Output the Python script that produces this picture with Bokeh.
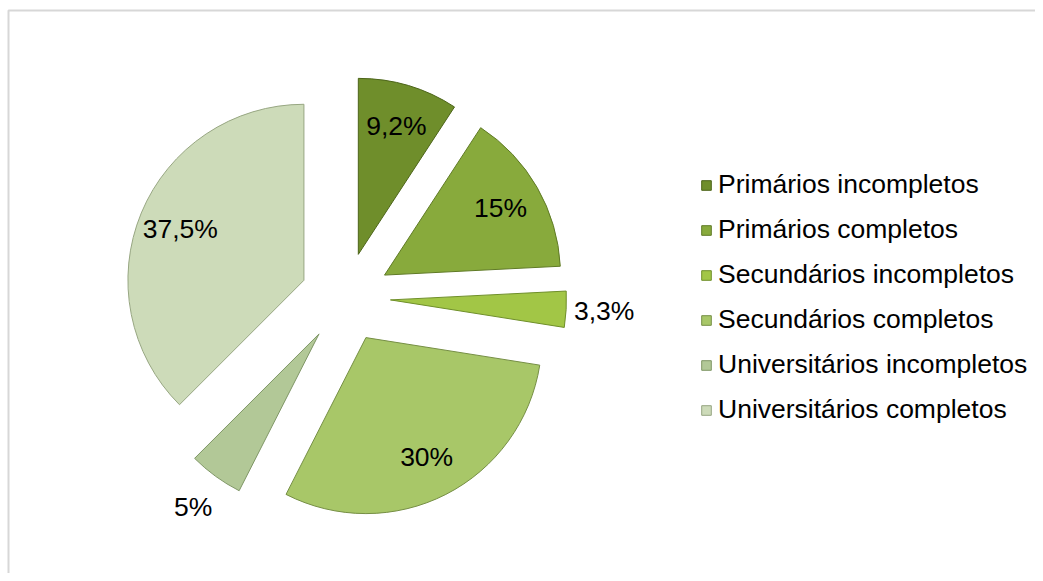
import math
from bokeh.plotting import figure
from bokeh.models import Legend, LegendItem, BoxAnnotation, ColumnDataSource, Range1d
from bokeh.embed import file_html
from bokeh.resources import INLINE
from bokeh.core.properties import value

# ---- data ----
categories = ["Primários incompletos", "Primários completos", "Secundários incompletos",
              "Secundários completos", "Universitários incompletos", "Universitários completos"]
percent = [9.2, 15, 3.3, 30, 5, 37.5]
colors = ["#6f8e2b", "#88aa3c", "#a2c646", "#a8c768", "#b2c897", "#cddbb9"]
edge_colors = ["#4c6419", "#5f7a25", "#6f8f2a", "#768f45", "#7f9666", "#97a682"]

# ---- layout constants ----
W, H = 1035, 573
CX, CY = 345, 276      # pie centre (data units = px)
R = 176                # radius
EXPLODE = 45           # explode distance
FONT = "Liberation Sans"

total = sum(percent)
xs, ys, starts, ends, lx, ly, labels = [], [], [], [], [], [], []
cum = 0.0
for v in percent:
    a0, a1 = cum / total, (cum + v) / total
    cum += v
    s = math.pi / 2 - 2 * math.pi * a1
    e = math.pi / 2 - 2 * math.pi * a0
    m = (s + e) / 2
    x = CX + EXPLODE * math.cos(m)
    y = CY + EXPLODE * math.sin(m)
    xs.append(x); ys.append(y); starts.append(s); ends.append(e)
    d = R + 38 if v < 6 else 0.76 * R
    lx.append(x + d * math.cos(m)); ly.append(y + d * math.sin(m))
    labels.append(f"{v:g}".replace(".", ",") + "%")

src = ColumnDataSource(dict(x=xs, y=ys, start=starts, end=ends, color=colors,
                            edge=edge_colors, cat=categories))
lsrc = ColumnDataSource(dict(x=lx, y=ly, text=labels))

p = figure(width=W, height=H, x_range=Range1d(0, W), y_range=Range1d(0, H),
           output_backend="svg", toolbar_location=None, min_border=0,
           x_axis_location=None, y_axis_location=None)
p.grid.visible = False
p.outline_line_color = None
p.background_fill_color = "white"
p.border_fill_color = "white"

# chart-area border (only top and left edges are visible in the window)
p.add_layout(BoxAnnotation(left=8, top=H - 10, right=W + 500, bottom=-500,
                           fill_alpha=0, line_color="#7a7a7a", line_width=2))

wr = p.wedge(x="x", y="y", radius=R, start_angle="start", end_angle="end",
             direction="anticlock", fill_color="color", line_color="edge",
             line_width=1, source=src)

p.text(x="x", y="y", text="text", source=lsrc, text_align="center",
       text_baseline="middle", text_font=value(FONT), text_font_size="26.5px",
       text_color="black")

items = [LegendItem(label=c, renderers=[wr], index=i) for i, c in enumerate(categories)]
legend = Legend(items=items, location=(700, 148), glyph_width=12, glyph_height=12,
                label_text_font=FONT, label_text_font_size="26.5px", label_text_color="black",
                label_standoff=6, spacing=14, padding=0, margin=0,
                border_line_color=None, background_fill_alpha=0)
p.add_layout(legend)

open("out.html", "w").write(file_html(p, INLINE))
